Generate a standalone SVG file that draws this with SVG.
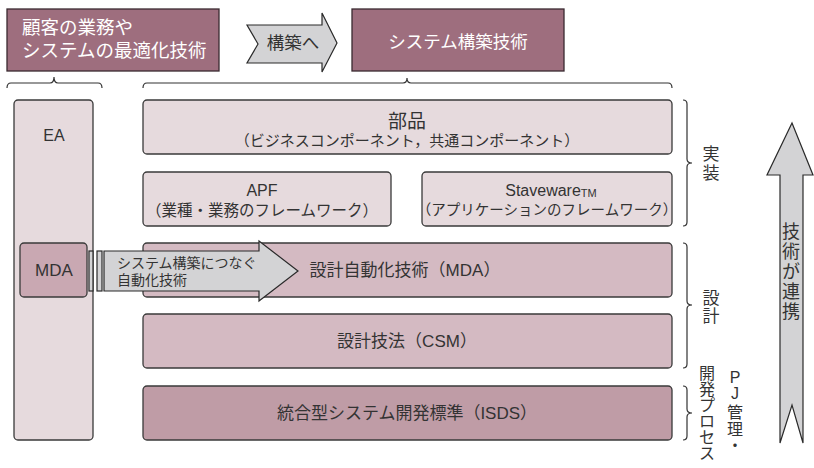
<svg xmlns="http://www.w3.org/2000/svg" width="814" height="468" viewBox="0 0 814 468">
<style>
text{font-family:"Liberation Sans","Noto Sans CJK JP",sans-serif;fill:#333;}
.top{fill:#9e6e7e;stroke:#3a2a30;stroke-width:1.3;}
.wt{fill:#fff;font-size:18.5px;}
.lt{fill:#e6dadd;stroke:#3a3a3a;stroke-width:1.3;}
.md{fill:#d4bac2;stroke:#3a3a3a;stroke-width:1.3;}
.dk{fill:#bf9ca6;stroke:#3a3a3a;stroke-width:1.3;}
.mda{fill:#c9a8b2;stroke:#3a3a3a;stroke-width:1.3;}
.ar{fill:#d3d3d5;stroke:#2a2a2a;stroke-width:1.2;}
.br{fill:none;stroke:#333;stroke-width:1.2;}
.c{text-anchor:middle;dominant-baseline:central;}
.v{text-anchor:middle;dominant-baseline:central;font-size:17px;}
</style>
<g id="top-left">
<rect class="top" x="7" y="9" width="212" height="62"/>
<text class="wt" x="22" y="27" dominant-baseline="central">顧客の業務や</text>
<text class="wt" x="22" y="50" dominant-baseline="central">システムの最適化技術</text>
</g>
<g id="arrow-kouchiku">
<polygon class="ar" points="247,25 322,25 322,13 337,43 322,72 322,63 247,63 258,44"/>
<text class="c" x="293" y="43" style="font-size:17.5px">構築へ</text>
</g>
<g id="top-right">
<rect class="top" x="352" y="9" width="212" height="62"/>
<text class="wt c" x="458" y="42" style="font-size:17.5px">システム構築技術</text>
</g>
<g id="connectors">
<path class="br" d="M7,88 Q7,83 11,83 L50,83 Q54,83 54,77 Q54,83 58,83 L98,83 Q102,83 102,88"/>
<path class="br" d="M143,88 Q143,83 147,83 L403,83 Q407,83 407,78 Q407,83 411,83 L668,83 Q672,83 672,88"/>
<path class="br" d="M683,100 Q687,100 687,104 L687,159 Q687,163 692,163 Q687,163 687,167 L687,222 Q687,226 683,226"/>
<path class="br" d="M683,243 Q687,243 687,247 L687,301 Q687,305 692,305 Q687,305 687,309 L687,364 Q687,368 683,368"/>
<path class="br" d="M683,386 Q687,386 687,390 L687,409 Q687,413 692,413 Q687,413 687,417 L687,436 Q687,440 683,440"/>
</g>
<g id="ea">
<rect class="lt" x="14" y="100" width="79" height="340" rx="4"/>
<text class="c" x="54" y="135" style="font-size:16px">EA</text>
</g>
<g id="buhin">
<rect class="lt" x="143" y="100" width="529" height="54" rx="4"/>
<text class="c" x="407" y="121" style="font-size:19px">部品</text>
<text class="c" x="407" y="140" style="font-size:15px">（ビジネスコンポーネント，共通コンポーネント）</text>
</g>
<g id="apf">
<rect class="lt" x="143" y="172" width="248" height="54" rx="4"/>
<text class="c" x="262" y="190" style="font-size:16px">APF</text>
<text class="c" x="262" y="210" style="font-size:15.5px">（業種・業務のフレームワーク）</text>
</g>
<g id="staveware">
<rect class="lt" x="422" y="172" width="250" height="54" rx="4"/>
<text class="c" x="551" y="190" style="font-size:16px">Staveware<tspan style="font-size:11px" dy="3">TM</tspan></text>
<text class="c" x="547" y="210" style="font-size:14.5px">（アプリケーションのフレームワーク）</text>
</g>
<g id="sekkei-jidoka">
<rect class="md" x="143" y="243" width="529" height="54" rx="4"/>
<text class="c" x="405" y="270" style="font-size:17px">設計自動化技術（MDA）</text>
</g>
<g id="sekkei-gihou">
<rect class="md" x="143" y="314" width="529" height="54" rx="4"/>
<text class="c" x="407" y="341" style="font-size:17px">設計技法（CSM）</text>
</g>
<g id="isds">
<rect class="dk" x="143" y="386" width="529" height="54" rx="4"/>
<text class="c" x="407" y="413" style="font-size:17px">統合型システム開発標準（ISDS）</text>
</g>
<g id="mda">
<rect class="mda" x="20" y="243" width="67" height="54" rx="4"/>
<text class="c" x="54" y="270" style="font-size:17px">MDA</text>
</g>
<g id="mda-arrow">
<rect class="ar" x="89" y="251" width="4" height="40"/>
<rect class="ar" x="97" y="251" width="5" height="40"/>
<polygon class="ar" points="104,251 259,251 259,241 298,271 259,301 259,291 104,291"/>
<text x="117" y="263" dominant-baseline="central" style="font-size:14px">システム構築につなぐ</text>
<text x="117" y="280" dominant-baseline="central" style="font-size:14px">自動化技術</text>
</g>
<g id="label-jissou">
<text class="v" x="711" y="154">実</text>
<text class="v" x="711" y="173">装</text>
</g>
<g id="label-sekkei">
<text class="v" x="711" y="298">設</text>
<text class="v" x="711" y="316">計</text>
</g>
<g id="label-pj">
<text class="v" x="735" y="377" style="font-size:16px">P</text>
<text class="v" x="735" y="393" style="font-size:16px">J</text>
<text class="v" x="735" y="412" style="font-size:16px">管</text>
<text class="v" x="735" y="429" style="font-size:16px">理</text>
<text class="v" x="735" y="445" style="font-size:16px">・</text>
<text class="v" x="707" y="373" style="font-size:16px">開</text>
<text class="v" x="707" y="389" style="font-size:16px">発</text>
<text class="v" x="707" y="405" style="font-size:16px">プ</text>
<text class="v" x="707" y="421" style="font-size:16px">ロ</text>
<text class="v" x="707" y="437" style="font-size:16px">セ</text>
<text class="v" x="707" y="453" style="font-size:16px">ス</text>
</g>
<g id="big-arrow">
<polygon class="ar" points="792,123 813,175 803,175 803,443 792,405 780,443 780,175 767,175"/>
<text class="v" x="791" y="232" style="font-size:18px">技</text>
<text class="v" x="791" y="252" style="font-size:18px">術</text>
<text class="v" x="791" y="272" style="font-size:18px">が</text>
<text class="v" x="791" y="292" style="font-size:18px">連</text>
<text class="v" x="791" y="312" style="font-size:18px">携</text>
</g>
</svg>
